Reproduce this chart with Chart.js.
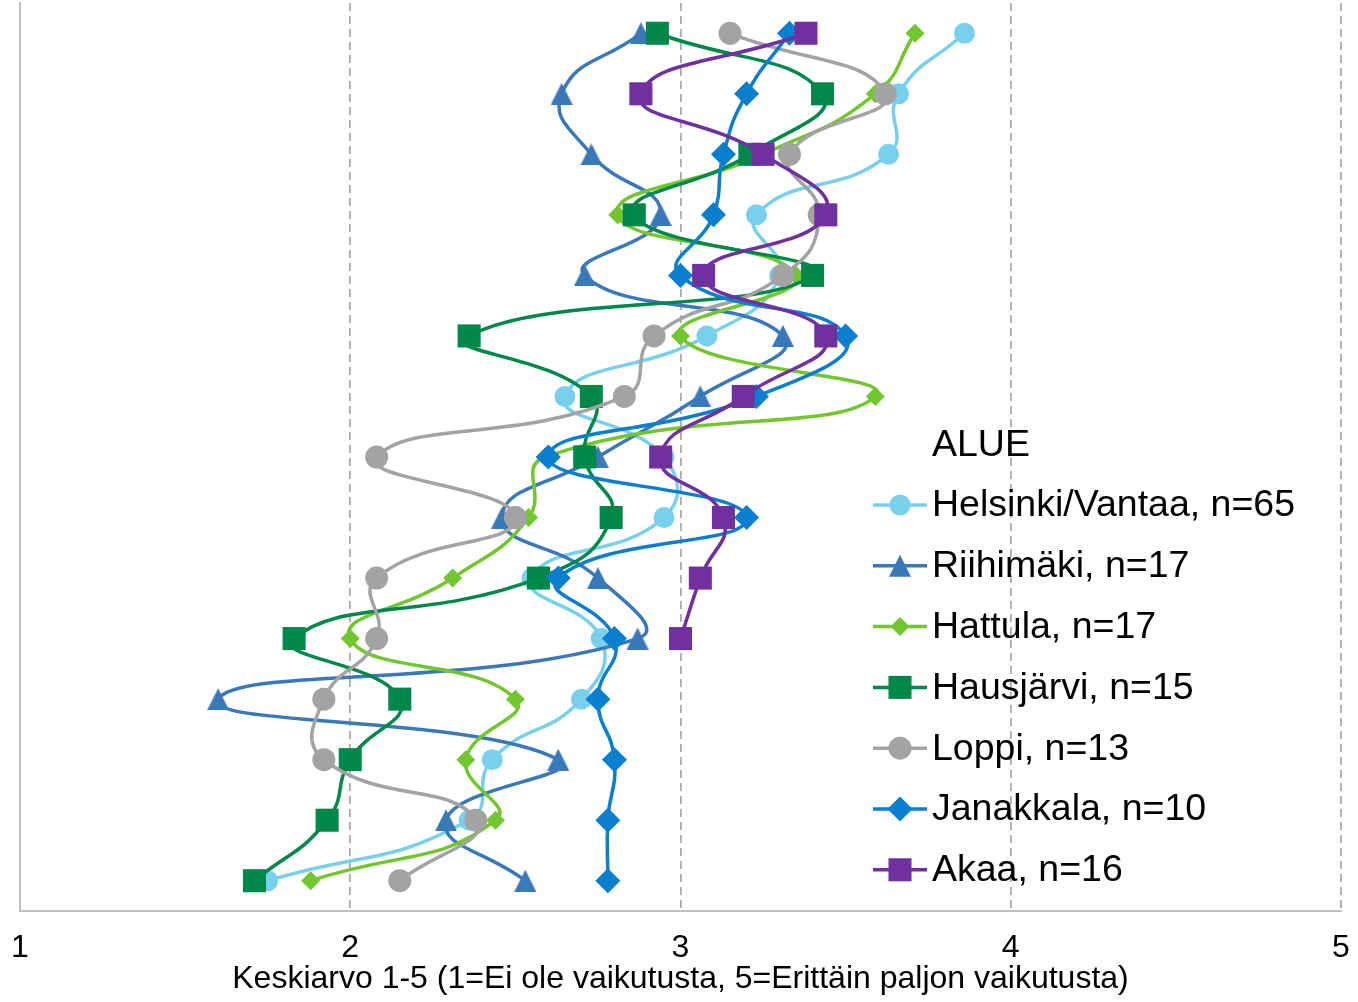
<!DOCTYPE html>
<html>
<head>
<meta charset="utf-8">
<script src="https://cdn.jsdelivr.net/npm/chart.js@4.4.1/dist/chart.umd.min.js"></script>
<style>
  html, body { margin: 0; padding: 0; background: #fff; }
  #wrap { width: 1358px; height: 1002px; }
</style>
</head>
<body>
<div id="wrap"><canvas id="chart"></canvas></div>
<script>
// rows (questions) from top to bottom, unlabeled in the original
const rows = [0, 1, 2, 3, 4, 5, 6, 7, 8, 9, 10, 11, 12, 13, 14];

// mean values per row
const helsinkiVantaa = [3.86, 3.66, 3.63, 3.23, 3.30, 3.08, 2.65, 2.95, 2.95, 2.55, 2.76, 2.70, 2.43, 2.36, 1.75];
const riihimaki      = [2.88, 2.64, 2.73, 2.94, 2.71, 3.31, 3.06, 2.75, 2.46, 2.75, 2.87, 1.60, 2.63, 2.29, 2.53];
const hattula        = [3.71, 3.59, 3.25, 2.81, 3.35, 3.00, 3.59, 2.59, 2.54, 2.31, 2.00, 2.50, 2.35, 2.44, 1.88];
const hausjarvi      = [2.93, 3.43, 3.21, 2.86, 3.40, 2.36, 2.73, 2.71, 2.79, 2.57, 1.83, 2.15, 2.00, 1.93, 1.71];
const loppi          = [3.15, 3.62, 3.33, 3.42, 3.31, 2.92, 2.83, 2.08, 2.50, 2.08, 2.08, 1.92, 1.92, 2.38, 2.15];
const janakkala      = [3.33, 3.20, 3.13, 3.10, 3.00, 3.50, 3.23, 2.60, 3.20, 2.63, 2.80, 2.75, 2.80, 2.78, 2.78];
const akaa           = [3.38, 2.88, 3.25, 3.44, 3.07, 3.44, 3.19, 2.94, 3.13, 3.06, 3.00, null, null, null, null];

const seriesNames = ['Helsinki/Vantaa, n=65', 'Riihimäki, n=17', 'Hattula, n=17', 'Hausjärvi, n=15', 'Loppi, n=13', 'Janakkala, n=10', 'Akaa, n=16'];
const seriesValues = [helsinkiVantaa, riihimaki, hattula, hausjarvi, loppi, janakkala, akaa];

const xTickLabels = ['1', '2', '3', '4', '5'];
const xTitle = 'Keskiarvo 1-5 (1=Ei ole vaikutusta, 5=Erittäin paljon vaikutusta)';
const legendTitle = 'ALUE';

const styles = [
  { color: '#78D0EC', pointStyle: 'circle',   radius: 10.5 },
  { color: '#3A79B9', pointStyle: 'triangle', radius: 11 },
  { color: '#72C62E', pointStyle: 'rectRot',  radius: 9.5 },
  { color: '#00884A', pointStyle: 'rect',     radius: 16.3 },
  { color: '#A3A3A3', pointStyle: 'circle',   radius: 11.5 },
  { color: '#0A7ECF', pointStyle: 'rectRot',  radius: 12.5 },
  { color: '#7030A0', pointStyle: 'rect',     radius: 16.3 }
];

const FONT = '"Liberation Sans", Arial, sans-serif';
Chart.defaults.font.family = FONT;
Chart.defaults.color = '#000';

function drawMarker(ctx, style, x, y) {
  const r = style.radius;
  ctx.beginPath();
  if (style.pointStyle === 'circle') {
    ctx.arc(x, y, r, 0, Math.PI * 2);
  } else if (style.pointStyle === 'triangle') {
    // Excel-like triangle: as tall as it is wide
    ctx.moveTo(x, y - r);
    ctx.lineTo(x + r, y + r);
    ctx.lineTo(x - r, y + r);
    ctx.closePath();
  } else if (style.pointStyle === 'rect') {
    const s = r * Math.SQRT1_2;
    ctx.rect(x - s, y - s, 2 * s, 2 * s);
  } else {
    ctx.moveTo(x, y - r); ctx.lineTo(x + r, y); ctx.lineTo(x, y + r); ctx.lineTo(x - r, y);
    ctx.closePath();
  }
  ctx.fillStyle = style.color;
  ctx.fill();
}

// the triangle marker as a small canvas so it can be taller than Chart.js' equilateral one
function triangleImage(style) {
  const size = Math.ceil(style.radius * 2);
  const c = document.createElement('canvas');
  c.width = size; c.height = size;
  drawMarker(c.getContext('2d'), style, size / 2, size / 2);
  return c;
}

const datasets = seriesValues.map((vals, i) => ({
  label: seriesNames[i],
  data: rows.filter(r => vals[r] != null).map(r => ({ x: vals[r], y: r })),
  showLine: true,
  tension: 0.5,
  borderColor: styles[i].color,
  backgroundColor: styles[i].color,
  borderWidth: 3.5,
  pointStyle: styles[i].pointStyle === 'triangle' ? triangleImage(styles[i]) : styles[i].pointStyle,
  pointRadius: styles[i].radius,
  pointHoverRadius: styles[i].radius,
  pointBorderWidth: 0,
  pointBackgroundColor: styles[i].color,
  order: seriesValues.length - i
}));

// legend drawn inside the plot, like the original
const insideLegend = {
  id: 'insideLegend',
  afterDraw(chart) {
    const ctx = chart.ctx;
    const x0 = 873, lineW = 54, textX = 932;
    const titleY = 446, firstY = 506, step = 60.8;
    ctx.save();
    ctx.font = '37.5px ' + FONT;
    ctx.textBaseline = 'middle';
    ctx.fillStyle = '#000';
    ctx.fillText(legendTitle, textX, titleY);
    seriesNames.forEach((name, i) => {
      const y = firstY + i * step;
      ctx.strokeStyle = styles[i].color;
      ctx.lineWidth = 3.5;
      ctx.beginPath();
      ctx.moveTo(x0, y - 1);
      ctx.lineTo(x0 + lineW, y - 1);
      ctx.stroke();
      drawMarker(ctx, styles[i], x0 + lineW / 2, y - 1);
      ctx.fillStyle = '#000';
      ctx.fillText(name, textX, y);
    });
    ctx.restore();
  }
};

new Chart(document.getElementById('chart'), {
  type: 'scatter',
  data: { datasets },
  options: {
    responsive: true,
    maintainAspectRatio: false,
    animation: false,
    layout: { autoPadding: false, padding: { left: 20, right: 17, top: 3, bottom: 0 } },
    plugins: {
      legend: { display: false },
      tooltip: { enabled: false }
    },
    scales: {
      x: {
        type: 'linear',
        min: 1,
        max: 5,
        grid: { color: '#ABABAB', lineWidth: 1.8, drawTicks: false },
        border: { display: true, color: '#BFBFBF', width: 2, dash: [8, 5] },
        ticks: {
          stepSize: 1,
          padding: 21,
          maxRotation: 0,
          font: { size: 32, lineHeight: 1 },
          color: '#000',
          callback: (v) => xTickLabels[v - 1]
        },
        title: {
          display: true,
          text: xTitle,
          font: { size: 32, lineHeight: 1 },
          color: '#000',
          padding: { top: 0, bottom: 7 }
        },
        afterFit: (s) => { s.paddingLeft = 0; s.paddingRight = 0; s.height = 91; }
      },
      y: {
        type: 'linear',
        min: -0.5,
        max: 14.5,
        reverse: true,
        grid: { display: false, drawTicks: false },
        border: { display: true, color: '#BFBFBF', width: 2 },
        ticks: { display: false },
        afterFit: (s) => { s.width = 0; s.paddingTop = 0; s.paddingBottom = 0; }
      }
    }
  },
  plugins: [insideLegend]
});
</script>
</body>
</html>
